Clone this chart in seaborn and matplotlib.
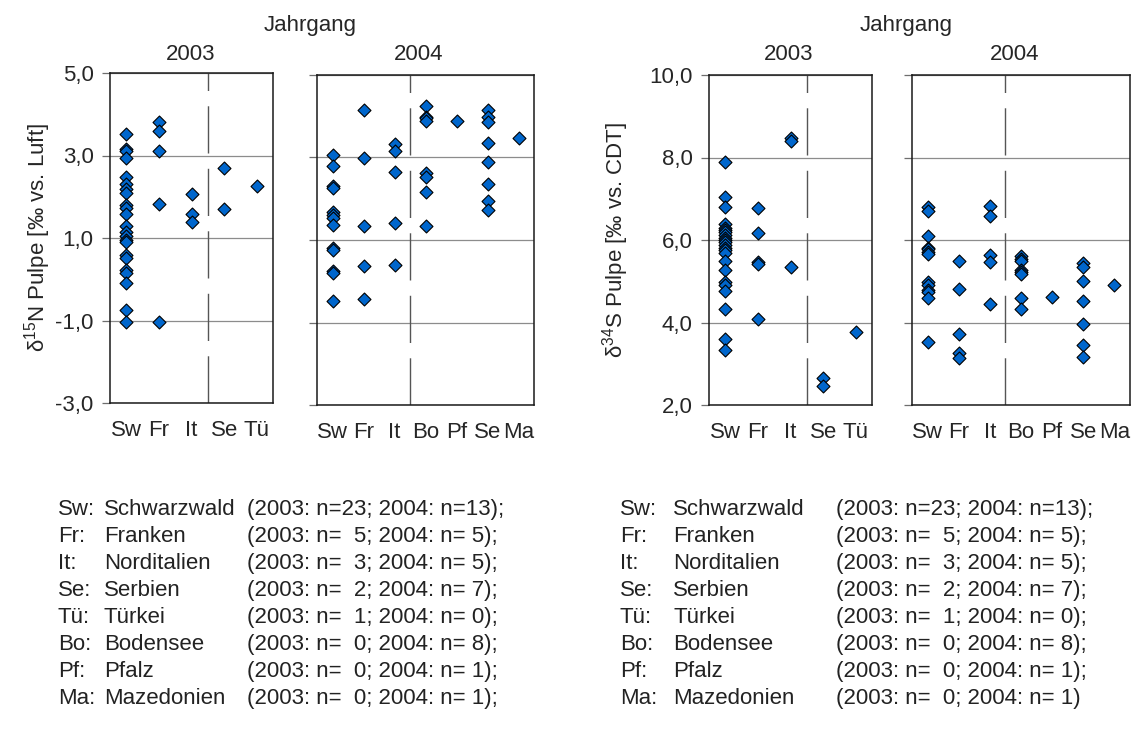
import matplotlib
matplotlib.use("Agg")
import matplotlib.pyplot as plt
from matplotlib.ticker import FuncFormatter
import pandas as pd
import seaborn as sns

# ---------------------------------------------------------------- data
REGIONS_2003 = ["Sw", "Fr", "It", "Se", "Tü"]
REGIONS_2004 = ["Sw", "Fr", "It", "Bo", "Pf", "Se", "Ma"]

# delta 15N of the pulp, harvest 2003
N15_2003_SW = [3.51, 3.16, 3.10, 2.93, 2.47, 2.30, 2.20, 2.08, 1.80, 1.72, 1.58, 1.30,
               1.15, 1.05, 0.95, 0.90, 0.60, 0.52, 0.22, 0.14, -0.08, -0.75, -1.03]
N15_2003_FR = [3.81, 3.60, 3.11, 1.82, -1.04]
N15_2003_IT = [2.06, 1.58, 1.40]
N15_2003_SE = [2.70, 1.71]
N15_2003_TU = [2.27]

# delta 15N of the pulp, harvest 2004
N15_2004_SW = [3.05, 2.80, 2.32, 2.27, 1.68, 1.60, 1.54, 1.36, 0.80, 0.76, 0.26, 0.20, -0.47]
N15_2004_FR = [4.15, 2.99, 1.35, 0.36, -0.42]
N15_2004_IT = [3.32, 3.16, 2.64, 1.42, 0.40]
N15_2004_BO = [4.26, 3.99, 3.95, 3.89, 2.62, 2.52, 2.17, 1.35]
N15_2004_PF = [3.89]
N15_2004_SE = [4.15, 3.99, 3.87, 3.35, 2.90, 2.36, 1.95, 1.73]
N15_2004_MA = [3.48]

# delta 34S of the pulp, harvest 2003
S34_2003_SW = [7.90, 7.05, 6.80, 6.39, 6.30, 6.24, 6.20, 6.12, 6.04, 6.00, 5.95, 5.89,
               5.80, 5.76, 5.69, 5.50, 5.27, 4.97, 4.92, 4.76, 4.32, 3.59, 3.33]
S34_2003_FR = [6.77, 6.18, 5.47, 5.41, 4.08]
S34_2003_IT = [8.48, 8.41, 5.35]
S34_2003_SE = [2.66, 2.47]
S34_2003_TU = [3.78]

# delta 34S of the pulp, harvest 2004
S34_2004_SW = [6.81, 6.71, 6.10, 5.80, 5.78, 5.72, 5.65, 4.97, 4.90, 4.80, 4.74, 4.59, 3.53]
S34_2004_FR = [5.48, 4.81, 3.73, 3.27, 3.15]
S34_2004_IT = [6.83, 6.58, 5.64, 5.47, 4.46]
S34_2004_BO = [5.61, 5.55, 5.49, 5.27, 5.22, 5.17, 4.59, 4.33]
S34_2004_PF = [4.63]
S34_2004_SE = [5.44, 5.35, 5.00, 4.52, 3.96, 3.45, 3.17]
S34_2004_MA = [4.92]

Y_TICKS_N15 = [-3.0, -1.0, 1.0, 3.0, 5.0]
Y_TICKS_S34 = [2.0, 4.0, 6.0, 8.0, 10.0]

LEGEND_ABBR = ["Sw:", "Fr:", "It:", "Se:", "Tü:", "Bo:", "Pf:", "Ma:"]
LEGEND_NAMES = ["Schwarzwald", "Franken", "Norditalien", "Serbien", "Türkei",
                "Bodensee", "Pfalz", "Mazedonien"]
LEGEND_COUNTS = ["(2003: n=23; 2004: n=13);", "(2003: n=  5; 2004: n= 5);",
                 "(2003: n=  3; 2004: n= 5);", "(2003: n=  2; 2004: n= 7);",
                 "(2003: n=  1; 2004: n= 0);", "(2003: n=  0; 2004: n= 8);",
                 "(2003: n=  0; 2004: n= 1);", "(2003: n=  0; 2004: n= 1);"]
LEGEND_COUNTS_RIGHT = LEGEND_COUNTS[:-1] + ["(2003: n=  0; 2004: n= 1)"]


def frame(cats, groups):
    rows = []
    for cat, vals in zip(cats, groups):
        rows += [(cat, v) for v in vals]
    return pd.DataFrame(rows, columns=["region", "value"])


n15_03 = frame(REGIONS_2003, [N15_2003_SW, N15_2003_FR, N15_2003_IT, N15_2003_SE, N15_2003_TU])
n15_04 = frame(REGIONS_2004, [N15_2004_SW, N15_2004_FR, N15_2004_IT, N15_2004_BO,
                              N15_2004_PF, N15_2004_SE, N15_2004_MA])
s34_03 = frame(REGIONS_2003, [S34_2003_SW, S34_2003_FR, S34_2003_IT, S34_2003_SE, S34_2003_TU])
s34_04 = frame(REGIONS_2004, [S34_2004_SW, S34_2004_FR, S34_2004_IT, S34_2004_BO,
                              S34_2004_PF, S34_2004_SE, S34_2004_MA])

# ---------------------------------------------------------------- style
sns.set_theme(style="white")
plt.rcParams["font.family"] = ["Liberation Sans", "DejaVu Sans"]
plt.rcParams["mathtext.fontset"] = "custom"
plt.rcParams["mathtext.rm"] = "Liberation Sans"
plt.rcParams["mathtext.default"] = "regular"

W, H = 1143, 738
FS = 16.0          # chart texts
FS_KEY = 16.0      # region key
KEY_COLOR = "#222222"

fig = plt.figure(figsize=(W / 100, H / 100), dpi=100)
fig.patch.set_facecolor("white")


def px_axes(x0, y0, x1, y1):
    return fig.add_axes([x0 / W, 1 - y1 / H, (x1 - x0) / W, (y1 - y0) / H])


comma = FuncFormatter(lambda v, _: f"{v:.1f}".replace(".", ","))


def panel(ax, df, cats, yticks, show_labels):
    sns.stripplot(data=df, x="region", y="value", order=cats, jitter=False,
                  marker="D", color="#0066CC", edgecolor="black", linewidth=0.8,
                  size=6.6, ax=ax, zorder=3)
    ax.set_xlim(-0.5, len(cats) - 0.5)
    ax.set_ylim(yticks[0], yticks[-1])
    ax.set_yticks(yticks)
    ax.yaxis.set_major_formatter(comma)
    ax.set_xlabel("")
    ax.set_ylabel("")
    ax.yaxis.grid(True, color="#8c8c8c", linewidth=0.9)
    ax.set_axisbelow(True)
    ax.axvline(2.5, color="#555555", linewidth=1.0, dashes=(34, 11), zorder=1)
    for s in ax.spines.values():
        s.set_color("#1a1a1a")
        s.set_linewidth(1.1)
    ax.tick_params(axis="y", direction="out", length=5.8, width=0.9, color="#6e6e6e",
                   labelsize=FS, left=True, labelleft=show_labels, pad=6)
    ax.tick_params(axis="x", length=0, labelsize=FS, pad=12)


ax1 = px_axes(110, 73, 273, 403)
panel(ax1, n15_03, REGIONS_2003, Y_TICKS_N15, True)
ax2 = px_axes(317, 75, 534, 405)
panel(ax2, n15_04, REGIONS_2004, Y_TICKS_N15, False)
ax3 = px_axes(709, 75, 872, 405)
panel(ax3, s34_03, REGIONS_2003, Y_TICKS_S34, True)
ax4 = px_axes(912, 75, 1130, 405)
panel(ax4, s34_04, REGIONS_2004, Y_TICKS_S34, False)


def ftext(x, y, s, **kw):
    fig.text(x / W, 1 - y / H, s, **kw)


# headers
ftext(310, 31, "Jahrgang", ha="center", va="baseline", fontsize=FS)
ftext(906, 31, "Jahrgang", ha="center", va="baseline", fontsize=FS)
ftext(191, 60, "2003", ha="center", va="baseline", fontsize=FS)
ftext(419, 60, "2004", ha="center", va="baseline", fontsize=FS)
ftext(789, 60, "2003", ha="center", va="baseline", fontsize=FS)
ftext(1015, 60, "2004", ha="center", va="baseline", fontsize=FS)

# y axis titles
ftext(38, 238, r"δ$^{15}$N Pulpe [‰ vs. Luft]", ha="center", va="center",
      rotation=90, fontsize=FS)
ftext(616, 240, r"δ$^{34}$S Pulpe [‰ vs. CDT]", ha="center", va="center",
      rotation=90, fontsize=FS)

# region key below each chart
baselines = [515 + 27 * i for i in range(len(LEGEND_ABBR))]
key = dict(ha="left", va="baseline", fontsize=FS_KEY, color=KEY_COLOR)
for y, ab, nm, c1, c2 in zip(baselines, LEGEND_ABBR, LEGEND_NAMES, LEGEND_COUNTS,
                             LEGEND_COUNTS_RIGHT):
    ftext(58, y, ab, **key)
    ftext(104, y, nm, **key)
    ftext(247, y, c1, **key)
    ftext(620, y, ab, **key)
    ftext(673, y, nm, **key)
    ftext(836, y, c2, **key)

fig.savefig("out.png", dpi=100, facecolor="white")
